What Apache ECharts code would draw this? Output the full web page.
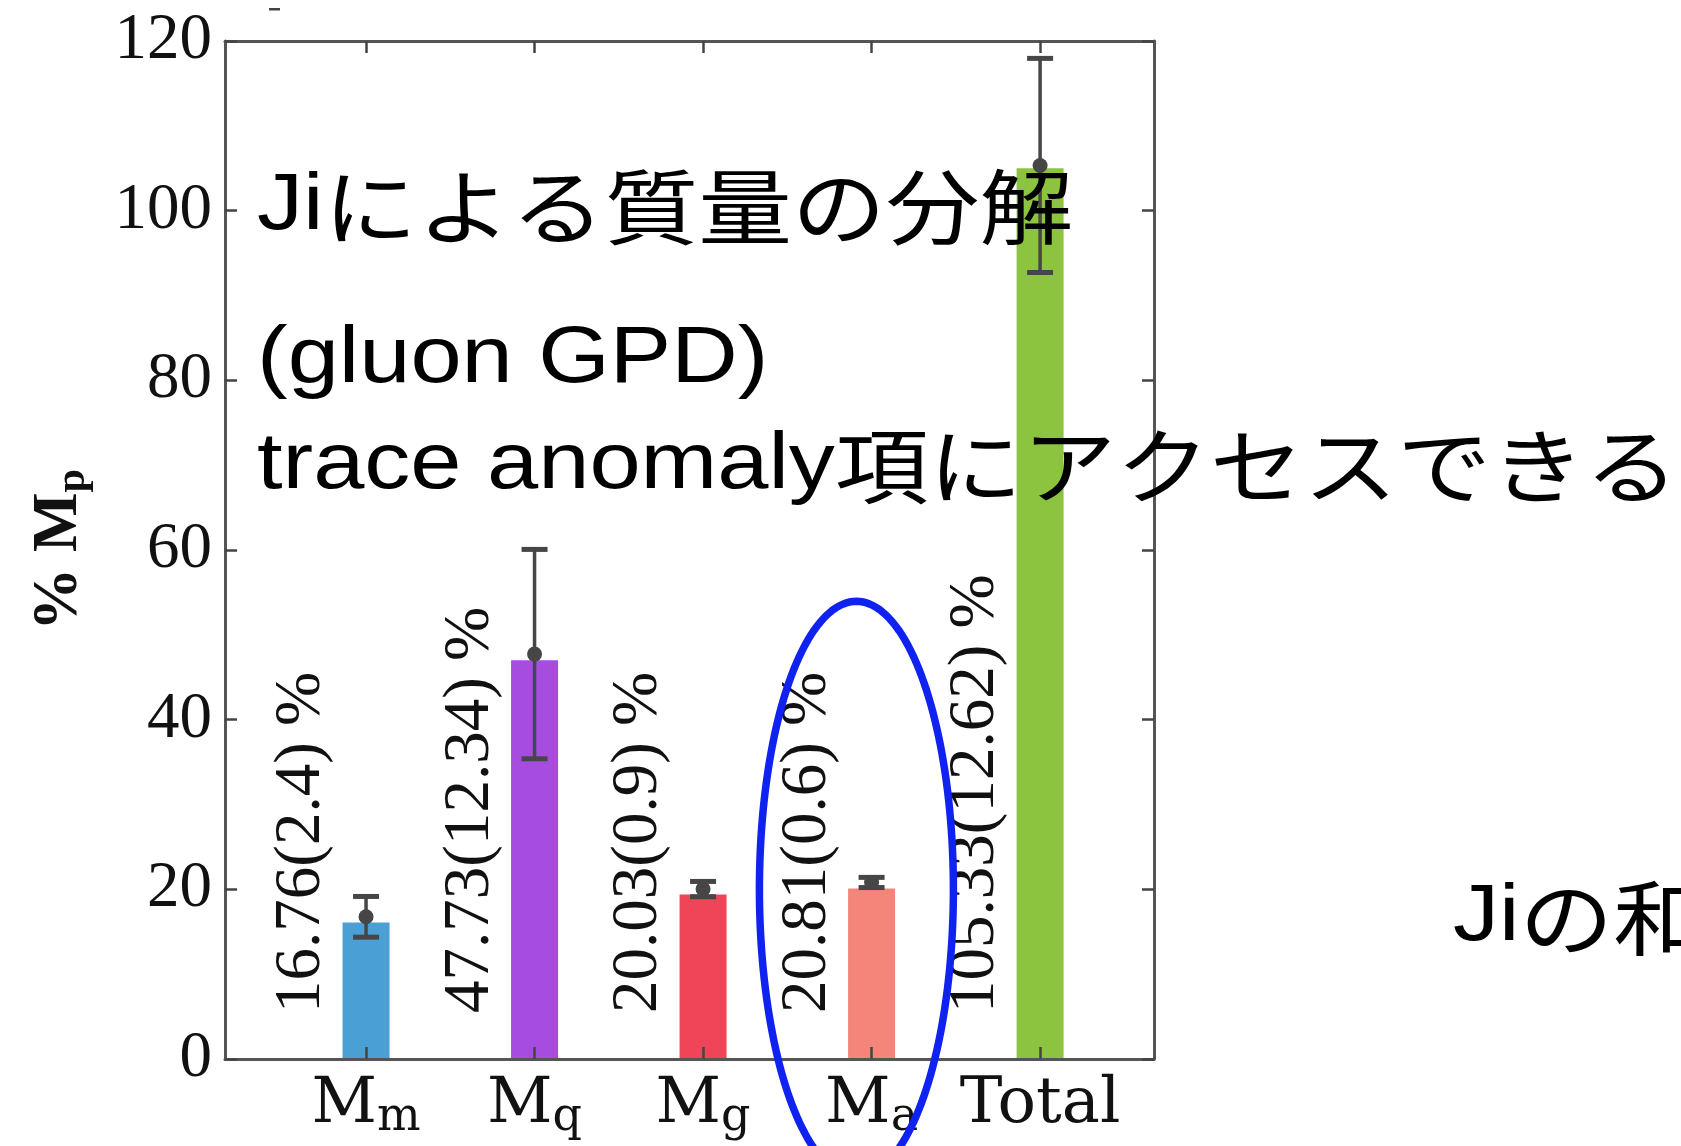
<!DOCTYPE html>
<html><head><meta charset="utf-8">
<script src="https://cdn.jsdelivr.net/npm/echarts@6/dist/echarts.min.js"></script>
<style>html,body{margin:0;padding:0;background:#fff}#c{width:1681px;height:1146px}</style>
</head><body><div id="c"></div>
<script>
// ---- data ----
const categoryMain = ['M', 'M', 'M', 'M', 'Total'];
const categorySub = ['m', 'q', 'g', 'a', ''];
const categoryPos = [1, 2, 3, 4, 5];
const barValues = [16.1, 47.0, 19.4, 20.1, 105.0];
const centralValues = [16.76, 47.73, 20.03, 20.81, 105.33];
const errorValues = [2.4, 12.34, 0.9, 0.6, 12.62];
const valueLabels = ['16.76(2.4) %', '47.73(12.34) %', '20.03(0.9) %', '20.81(0.6) %', '105.33(12.62) %'];
const barColors = ['#4a9fd5', '#a64ddf', '#f04458', '#f5857a', '#8cc43f'];
const yTicks = [0, 20, 40, 60, 80, 100, 120];
const noteLines = [['Ji', 'による質量の分解'], ['(gluon GPD)', ''], ['trace anomaly', '項にアクセスできる']];
const sideNote = ['Ji', 'の和'];
const circledCategory = [3.91, 20];

const chart = echarts.init(document.getElementById('c'), null, {renderer: 'canvas'});
const SERIF = '"Liberation Serif", "Times New Roman", serif';
const SERIF2 = '"DejaVu Serif", serif';
const LATIN = '"Liberation Sans", sans-serif';
const CJK = '"Noto Sans CJK JP", sans-serif';
const frameColor = '#555';
const tickStyle = {color: '#444', width: 2.5};
const xMin = 0.163, xMax = 5.676;

const option = {
  backgroundColor: '#fff',
  animation: false,
  grid: {left: 225, right: 527, top: 41, bottom: 87, containLabel: false, outerBoundsMode: 'none'},
  xAxis: [{
    type: 'value', min: xMin, max: xMax, position: 'bottom', z: 5,
    axisLine: {show: true, onZero: false, lineStyle: {color: frameColor, width: 3}},
    axisTick: {show: true, inside: true, length: 12, lineStyle: tickStyle, customValues: categoryPos},
    splitLine: {show: false},
    axisLabel: {
      show: true, margin: 10, customValues: categoryPos,
      formatter: function (v) {
        const i = categoryPos.indexOf(Math.round(v));
        if (i < 0) return '';
        return '{m|' + categoryMain[i] + '}{s|' + (categorySub[i] || '\u200b') + '}';
      },
      rich: {
        m: {fontFamily: SERIF2, fontSize: 64, color: '#111'},
        s: {fontFamily: SERIF2, fontSize: 46, color: '#111', padding: [26, 0, 0, 0]}
      }
    }
  }, {
    type: 'value', min: xMin, max: xMax, position: 'top', z: 5,
    axisLine: {show: true, onZero: false, lineStyle: {color: frameColor, width: 3}},
    axisTick: {show: true, inside: true, length: 12, lineStyle: tickStyle, customValues: categoryPos},
    axisLabel: {show: false}, splitLine: {show: false}
  }],
  yAxis: [{
    type: 'value', min: yTicks[0], max: yTicks[yTicks.length - 1], interval: 20, position: 'left', z: 5,
    name: '{a|% M}{b|p}', nameLocation: 'middle', nameRotate: 90, nameGap: 131,
    nameTextStyle: {
      rich: {
        a: {fontFamily: SERIF, fontWeight: 'bold', fontSize: 63, color: '#111'},
        b: {fontFamily: SERIF, fontWeight: 'bold', fontSize: 42, color: '#111', padding: [26, 0, 0, 0]}
      }
    },
    axisLine: {show: true, onZero: false, lineStyle: {color: frameColor, width: 3}},
    axisTick: {show: true, inside: true, length: 12, lineStyle: tickStyle},
    splitLine: {show: false},
    axisLabel: {show: true, margin: 13, fontFamily: SERIF, fontSize: 65, color: '#111'}
  }, {
    type: 'value', min: yTicks[0], max: yTicks[yTicks.length - 1], interval: 20, position: 'right', z: 5,
    axisLine: {show: true, onZero: false, lineStyle: {color: frameColor, width: 3}},
    axisTick: {show: true, inside: true, length: 12, lineStyle: tickStyle},
    splitLine: {show: false}, axisLabel: {show: false}
  }],
  series: [{
    type: 'bar', xAxisIndex: 0, yAxisIndex: 0, barWidth: 47, z: 2,
    data: categoryPos.map((x, i) => ({value: [x, barValues[i]], itemStyle: {color: barColors[i]}}))
  }, {
    type: 'custom', xAxisIndex: 0, yAxisIndex: 0, z: 3, clip: false,
    data: categoryPos.map((x, i) => [x, centralValues[i] - errorValues[i], centralValues[i] + errorValues[i], centralValues[i]]),
    encode: {x: 0, y: [1, 2]},
    renderItem: function (params, api) {
      const x = api.value(0);
      const lo = api.coord([x, api.value(1)]);
      const hi = api.coord([x, api.value(2)]);
      const mid = api.coord([x, api.value(3)]);
      const cw = 13;
      const st = {stroke: '#464646', lineWidth: 3.5, fill: null};
      const cap = {stroke: '#464646', lineWidth: 5, fill: null};
      return {type: 'group', children: [
        {type: 'line', shape: {x1: lo[0], y1: lo[1], x2: hi[0], y2: hi[1]}, style: st},
        {type: 'line', shape: {x1: lo[0] - cw, y1: lo[1], x2: lo[0] + cw, y2: lo[1]}, style: cap},
        {type: 'line', shape: {x1: hi[0] - cw, y1: hi[1], x2: hi[0] + cw, y2: hi[1]}, style: cap},
        {type: 'circle', shape: {cx: mid[0], cy: mid[1], r: 7.5}, style: {fill: '#464646'}}
      ]};
    }
  }, {
    type: 'custom', xAxisIndex: 0, yAxisIndex: 0, z: 4, clip: false,
    data: categoryPos.map((x, i) => [x, 0, i]),
    encode: {x: 0, y: 1},
    renderItem: function (params, api) {
      const p = api.coord([api.value(0), 0]);
      const i = api.value(2);
      return {
        type: 'text', x: p[0] - 64, y: p[1] - 46, rotation: Math.PI / 2,
        style: {text: valueLabels[i], fontFamily: SERIF, fontSize: 65, fill: '#111', align: 'left', verticalAlign: 'middle'}
      };
    }
  }]
};
chart.setOption(option);

// annotations (slide text and the blue ellipse)
const SX = 1.15;
const noteRich = {
  l: {fontFamily: LATIN, fontSize: 80, color: '#000'},
  c: {fontFamily: CJK, fontSize: 81.5, color: '#000'}
};
function noteText(parts) {
  return '{l|' + parts[0] + '}' + (parts[1] ? '{c|' + parts[1] + '}' : '');
}
const c = chart.convertToPixel({xAxisIndex: 0, yAxisIndex: 0}, circledCategory);
const rx = 97, ry = 288;
const pts = [];
for (let k = 0; k < 180; k++) {
  const t = k / 180 * Math.PI * 2;
  pts.push([c[0] + rx * Math.cos(t), c[1] + ry * Math.sin(t)]);
}
chart.setOption({
  graphic: [
    {id: 'n1', type: 'text', x: 257, y: 207, scaleX: SX, z: 100, style: {text: noteText(noteLines[0]), rich: noteRich, verticalAlign: 'middle'}},
    {id: 'n2', type: 'text', x: 257, y: 360, scaleX: SX, z: 100, style: {text: noteText(noteLines[1]), rich: noteRich, verticalAlign: 'middle'}},
    {id: 'n3', type: 'text', x: 257, y: 466, scaleX: SX, z: 100, style: {text: noteText(noteLines[2]), rich: noteRich, verticalAlign: 'middle'}},
    {id: 'n4', type: 'text', x: 1453, y: 918, scaleX: SX, z: 100, style: {text: noteText(sideNote), rich: noteRich, verticalAlign: 'middle'}},
    {id: 'dash', type: 'rect', z: 100, shape: {x: 269, y: 8, width: 11, height: 2.5}, style: {fill: '#444'}},
    {id: 'ell', type: 'polygon', z: 110, shape: {points: pts}, style: {fill: null, stroke: '#1022f0', lineWidth: 7.5}}
  ]
});
</script>
</body></html>
